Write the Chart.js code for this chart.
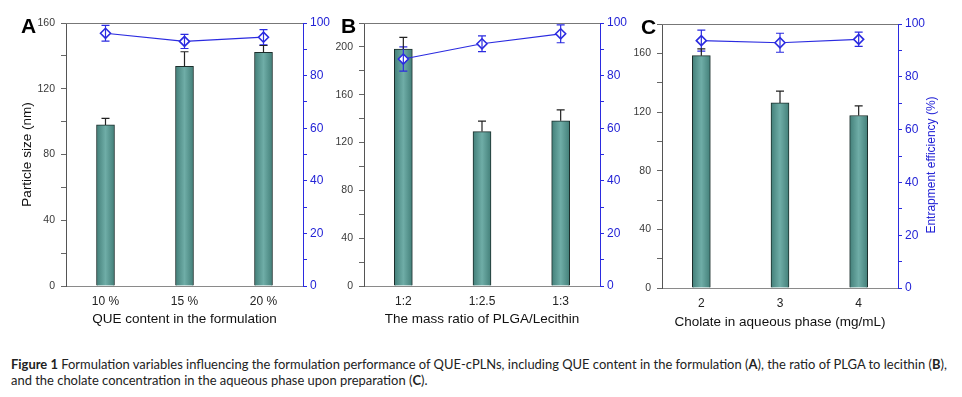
<!DOCTYPE html>
<html>
<head>
<meta charset="utf-8">
<script src="https://cdn.jsdelivr.net/npm/chart.js@4"></script>
<style>
  body { margin: 0; background: #fff; width: 962px; height: 397px; position: relative; overflow: hidden; }
  .panel { position: absolute; top: 0; }
  .letter { position: absolute; font: bold 21px "Liberation Sans", Arial, sans-serif; line-height: 21px; color: #000; }
  #eeTitle { position: absolute; left: 831px; top: 158px; width: 200px; text-align: center;
    font: 12px "Liberation Sans", Arial, sans-serif; color: #2323d6; transform: rotate(-90deg); }
  #caption { position: absolute; left: 11px; top: 356px; font-family: Lato, "Open Sans", sans-serif;
    font-size: 12px; line-height: 16.3px; color: #222; }
  .cap-line { white-space: nowrap; }
</style>
</head>
<body>
<div class="panel" style="left:0px"><canvas id="chartA" width="335" height="340"></canvas></div>
<div class="panel" style="left:320px"><canvas id="chartB" width="320" height="340"></canvas></div>
<div class="panel" style="left:625px"><canvas id="chartC" width="337" height="340"></canvas></div>
<div class="letter" style="left:21px;top:15px">A</div>
<div class="letter" style="left:341px;top:15px">B</div>
<div class="letter" style="left:641px;top:16px">C</div>
<div id="eeTitle">Entrapment efficiency (%)</div>
<div id="caption">
  <div class="cap-line"><span id="cap1"><b>Figure 1</b> Formulation variables influencing the formulation performance of QUE-cPLNs, including QUE content in the formulation (<b>A</b>), the ratio of PLGA to lecithin (<b>B</b>),</span></div>
  <div class="cap-line">and the cholate concentration in the aqueous phase upon preparation (<b>C</b>).</div>
</div>
<script>
// panel A - QUE content
const labelsA = ['10 %', '15 %', '20 %'];
const sizeA = [98, 133.7, 142.2];
const sizeErrA = [4, 8.8, 4.1];
const eeA = [96.1, 93.0, 94.6];
const eeErrA = [3.0, 2.7, 2.9];

// panel B - PLGA/lecithin
const labelsB = ['1:2', '1:2.5', '1:3'];
const sizeB = [198.2, 129.2, 138.2];
const sizeErrB = [9.8, 8.7, 9.2];
const eeB = [86.3, 92.1, 95.9];
const eeErrB = [4.6, 3.0, 3.4];

// panel C - cholate
const labelsC = ['2', '3', '4'];
const sizeC = [158.4, 126.2, 117.6];
const sizeErrC = [4.6, 8.0, 6.6];
const eeC = [93.7, 92.9, 94.2];
const eeErrC = [4.0, 3.6, 2.7];

const BLUE = '#2b2be0';
const TEXT_BLUE = '#2323d6';
const FONT = '"Liberation Sans", Arial, sans-serif';

// error bars drawn from each dataset's "errors" array
const errorBars = {
    id: 'errorBars',
    afterDatasetsDraw(chart) {
        const ctx = chart.ctx;
        chart.data.datasets.forEach((ds, di) => {
            const meta = chart.getDatasetMeta(di);
            const scale = chart.scales[ds.yAxisID];
            ctx.save();
            ctx.strokeStyle = ds.errColor;
            ctx.lineWidth = 1.2;
            meta.data.forEach((el, i) => {
                const v = ds.data[i], e = ds.errors[i];
                const top = scale.getPixelForValue(v + e);
                const bot = ds.upOnly ? scale.getPixelForValue(v) : scale.getPixelForValue(v - e);
                ctx.beginPath();
                ctx.moveTo(el.x, top); ctx.lineTo(el.x, bot);
                ctx.moveTo(el.x - 4, top); ctx.lineTo(el.x + 4, top);
                if (!ds.upOnly) { ctx.moveTo(el.x - 4, bot); ctx.lineTo(el.x + 4, bot); }
                ctx.stroke();
            });
            ctx.restore();
        });
    }
};

// top frame line of each plot
const topFrame = {
    id: 'topFrame',
    beforeDatasetsDraw(chart) {
        const a = chart.chartArea, ctx = chart.ctx;
        ctx.save();
        ctx.strokeStyle = '#777';
        ctx.lineWidth = 1;
        ctx.beginPath();
        ctx.moveTo(a.left, a.top + 0.5); ctx.lineTo(a.right, a.top + 0.5);
        ctx.stroke();
        ctx.restore();
    }
};

function barFill(ctx) {
    const c = ctx.chart;
    if (!c.chartArea || !c.scales.x) return '#5a9993';
    const x = c.scales.x.getPixelForValue(ctx.dataIndex);
    const g = c.ctx.createLinearGradient(x - 9, 0, x + 9, 0);
    g.addColorStop(0, '#437f79');
    g.addColorStop(0.5, '#6fada7');
    g.addColorStop(1, '#437f79');
    return g;
}

function makePanel(id, p) {
    const canvas = document.getElementById(id);
    const W = canvas.width, H = canvas.height;
    new Chart(canvas.getContext('2d'), {
        type: 'bar',
        data: {
            labels: p.labels,
            datasets: [
                {
                    type: 'line', data: p.ee, errors: p.eeErr, errColor: BLUE, yAxisID: 'y1',
                    borderColor: BLUE, borderWidth: 1.2, pointStyle: 'rectRot', pointRadius: 5,
                    pointBackgroundColor: '#fff', pointBorderColor: BLUE, pointBorderWidth: 1.6, order: 0
                },
                {
                    type: 'bar', data: p.size, errors: p.sizeErr, errColor: '#222', upOnly: true, yAxisID: 'y',
                    backgroundColor: barFill, borderColor: '#1c2e2c', borderWidth: 1, borderSkipped: 'bottom',
                    barThickness: 18, order: 1
                }
            ]
        },
        options: {
            responsive: false,
            animation: false,
            events: [],
            layout: { padding: { left: p.plotLeft - p.lw, right: W - p.plotRight - p.rw, top: p.plotTop, bottom: H - p.plotBottom - p.xh } },
            plugins: { legend: { display: false }, tooltip: { enabled: false } },
            scales: {
                x: {
                    grid: { display: false, drawTicks: false },
                    border: { color: '#8a8a8a' },
                    ticks: { padding: 8, color: '#222', font: { family: FONT, size: 12 } },
                    title: { display: true, text: p.xTitle, color: '#111', padding: 0, font: { family: FONT, size: 13.5 } },
                    afterFit(s) { s.height = p.xh; }
                },
                y: {
                    position: 'left', min: 0, max: p.max,
                    ticks: { stepSize: 20, callback: v => (v % 40 === 0 ? v : ''), color: '#3a3a3a', padding: 6, font: { family: FONT, size: 10.5 } },
                    grid: { drawOnChartArea: false, tickLength: 5, color: '#666' },
                    border: { color: '#555' },
                    title: { display: !!p.yTitle, text: p.yTitle, color: '#111', padding: { top: 3, bottom: 0 }, font: { family: FONT, size: 13.5 } },
                    afterFit(s) { s.width = p.lw; }
                },
                y1: {
                    position: 'right', min: 0, max: 100,
                    ticks: { stepSize: 10, callback: v => (v % 20 === 0 ? v : ''), color: TEXT_BLUE, padding: 3, font: { family: FONT, size: 12 } },
                    grid: { drawOnChartArea: false, tickLength: 4, color: BLUE },
                    border: { color: BLUE },
                    afterFit(s) { s.width = p.rw; }
                }
            }
        },
        plugins: [topFrame, errorBars]
    });
}

makePanel('chartA', {
    labels: labelsA, size: sizeA, sizeErr: sizeErrA, ee: eeA, eeErr: eeErrA, max: 160,
    xTitle: 'QUE content in the formulation', yTitle: 'Particle size (nm)',
    plotLeft: 66, plotRight: 303, plotTop: 23, plotBottom: 286, lw: 50, rw: 32, xh: 41
});
makePanel('chartB', {
    labels: labelsB, size: sizeB, sizeErr: sizeErrB, ee: eeB, eeErr: eeErrB, max: 220,
    xTitle: 'The mass ratio of PLGA/Lecithin', yTitle: '',
    plotLeft: 44, plotRight: 280, plotTop: 23, plotBottom: 286, lw: 44, rw: 40, xh: 41
});
makePanel('chartC', {
    labels: labelsC, size: sizeC, sizeErr: sizeErrC, ee: eeC, eeErr: eeErrC, max: 180,
    xTitle: 'Cholate in aqueous phase (mg/mL)', yTitle: '',
    plotLeft: 37, plotRight: 273, plotTop: 24, plotBottom: 288, lw: 37, rw: 64, xh: 42
});

// fit caption line to the figure width
const cap1 = document.getElementById('cap1');
const w = cap1.getBoundingClientRect().width;
document.getElementById('caption').style.fontSize = (12 * 936 / w).toFixed(2) + 'px';
</script>
</body>
</html>
